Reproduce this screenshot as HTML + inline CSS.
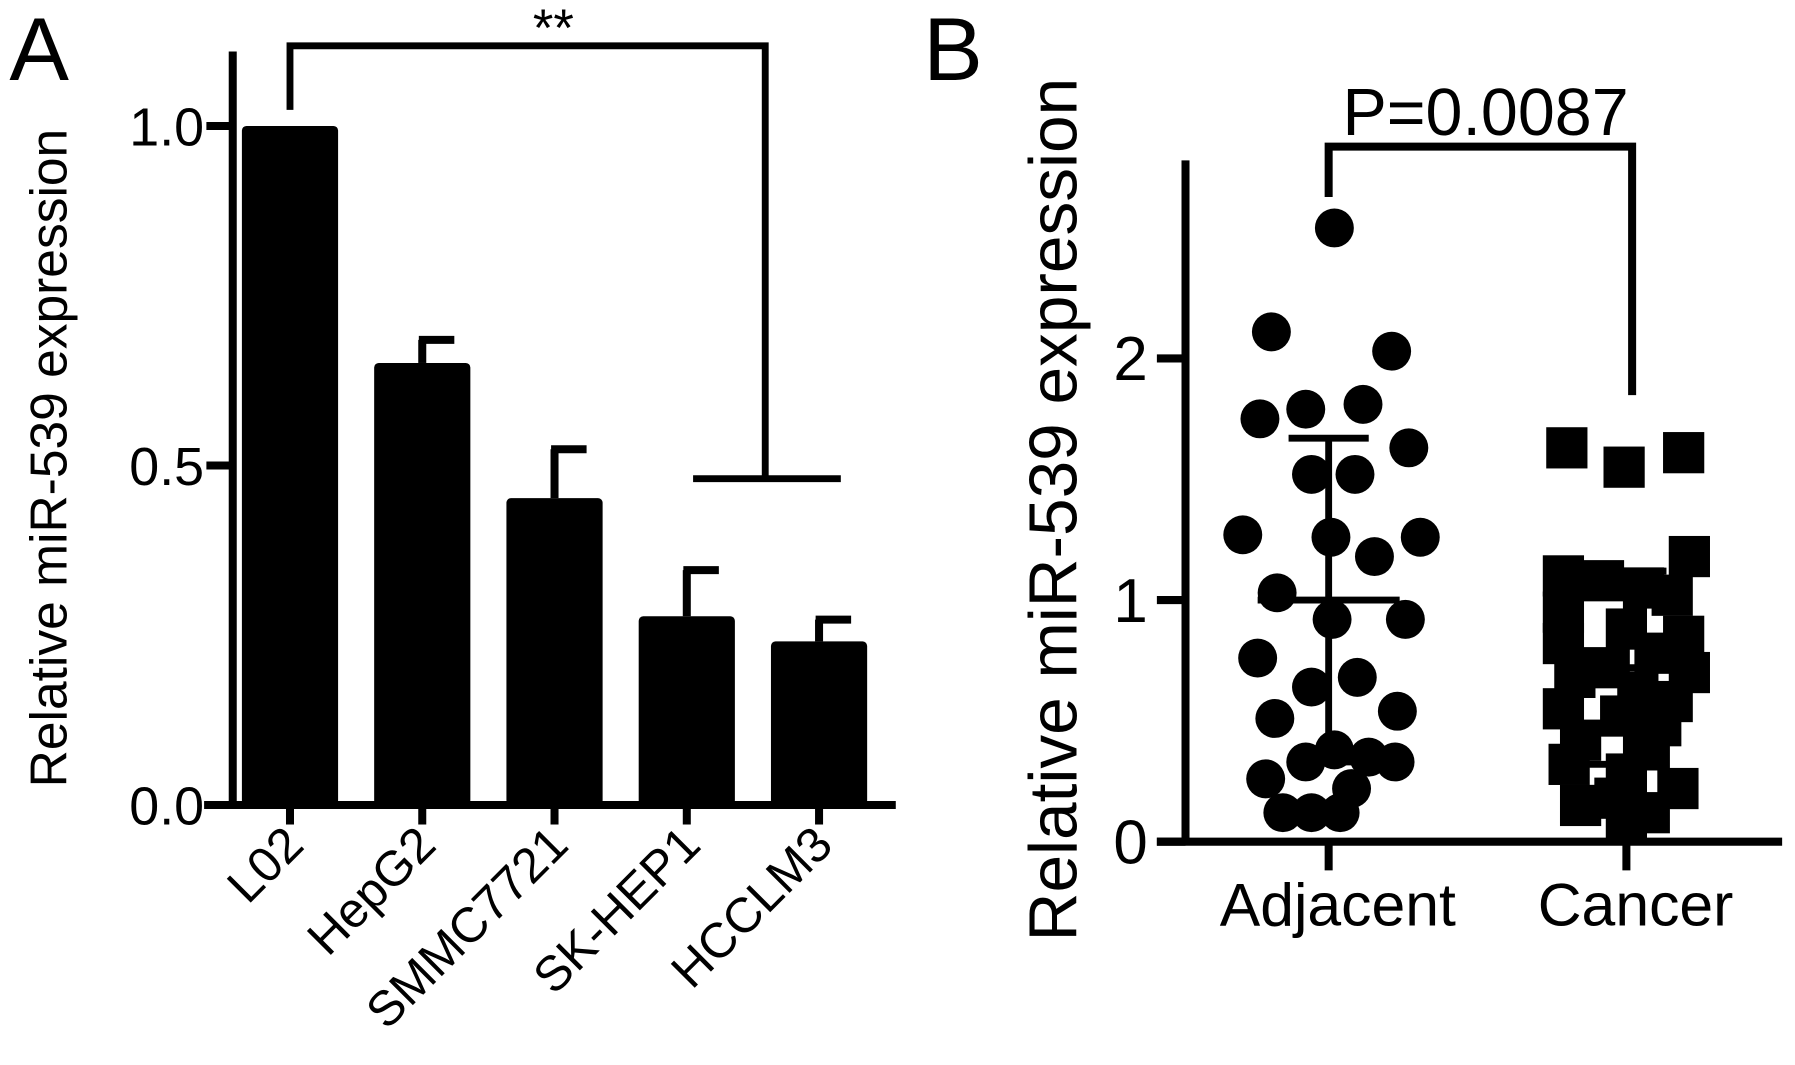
<!DOCTYPE html>
<html><head><meta charset="utf-8"><style>html,body{margin:0;padding:0;background:#fff}svg{display:block}text{font-family:"Liberation Sans",Arial,sans-serif;fill:#000}</style></head>
<body>
<svg id="fig" width="1795" height="1065" viewBox="0 0 1567 930" xmlns="http://www.w3.org/2000/svg">
<g id="pa"></g>
<g id="pb"></g>
</svg>
<script>
const catsA = ["L02","HepG2","SMMC7721","SK-HEP1","HCCLM3"];
const valsA = [1.0,0.651,0.452,0.278,0.241];
const errA = [0,0.034,0.072,0.068,0.032];
const ticksA = [0,0.5,1.0];
const tickLabelsA = ["0.0","0.5","1.0"];
const groupsB = ["Adjacent","Cancer"];
const adjVals = [2.54,2.11,2.03,1.75,1.79,1.81,1.63,1.52,1.52,1.27,1.26,1.18,1.26,1.03,0.92,0.92,0.76,0.64,0.68,0.51,0.54,0.26,0.33,0.38,0.35,0.33,0.22,0.12,0.12,0.12];
const canVals = [1.63,1.55,1.61,1.18,1.10,1.08,1.05,1.02,0.95,0.88,0.85,0.82,0.78,0.72,0.70,0.68,0.62,0.58,0.55,0.52,0.48,0.42,0.38,0.32,0.28,0.22,0.18,0.15,0.12,0.10];
const meanB = [1.0,0.72];
const sdB = [0.67,0.40];
const ticksB = [0,1,2];
const NS="http://www.w3.org/2000/svg";
function mk(p,t,a,txt){const e=document.createElementNS(NS,t);for(const k in a)e.setAttribute(k,a[k]);if(txt!==undefined)e.textContent=txt;p.appendChild(e);return e;}
const pa=document.getElementById('pa');
const yA=v=>703-v*593;
const xA=i=>253+i*115.5;
let e;
e=mk(pa,'line',{x1:203,y1:45,x2:203,y2:706,stroke:'#000','stroke-width':7});


e=mk(pa,'line',{x1:178,y1:703,x2:782,y2:703,stroke:'#000','stroke-width':7});


ticksA.forEach((t,i)=>{
  e=mk(pa,'line',{x1:180,y1:yA(t),x2:203,y2:yA(t),stroke:'#000','stroke-width':7});
  
  
  e=mk(pa,'text',{x:178,y:yA(t)+17,'text-anchor':'end','font-size':47},tickLabelsA[i]);
  
  
});
catsA.forEach((c,i)=>{
  const x=xA(i),w=84,top=yA(valsA[i]);
  if(errA[i]>0){
    const et=yA(valsA[i]+errA[i]);
    e=mk(pa,'line',{x1:x,y1:top,x2:x,y2:et,stroke:'#000','stroke-width':7});
    
    
    e=mk(pa,'line',{x1:x-3,y1:et,x2:x+28,y2:et,stroke:'#000','stroke-width':7});
    
    
  }
  e=mk(pa,'rect',{x:x-w/2,y:top,width:w,height:703-top,rx:4,fill:'#000'});
  
  
  e=mk(pa,'line',{x1:x,y1:703,x2:x,y2:720,stroke:'#000','stroke-width':7});
  
  
  e=mk(pa,'text',{x:0,y:0,'text-anchor':'end','font-size':43,transform:`translate(${x+14},${740}) rotate(-45)`},c);
  
  
});
e=mk(pa,'path',{d:`M${xA(0)} 96 V40 H668 V418 M605 418 H734`,stroke:'#000','stroke-width':6,fill:'none'});


e=mk(pa,'text',{x:483,y:40,'text-anchor':'middle','font-size':46},'**');


e=mk(pa,'text',{x:0,y:0,'text-anchor':'middle','font-size':45,transform:'translate(58,400) rotate(-90)'},'Relative miR-539 expression');


e=mk(pa,'text',{x:8,y:70,'font-size':78},'A');


const pb=document.getElementById('pb');
const yB=v=>735-v*211;
const xB=i=>1160+i*260;
const jitAdj=[5,-50,55,-60,-20,30,70,-15,23,-75,2,40,80,-45,3,67,-62,-15,25,-47,60,-55,-20,5,35,58,20,-40,-15,10];
const jitCan=[-52,-2,50,55,-55,-20,15,40,-55,0,50,-55,25,-20,55,-45,10,40,-55,-5,30,-40,20,-50,0,45,-10,-40,20,0];
e=mk(pb,'line',{x1:1035,y1:140,x2:1035,y2:738,stroke:'#000','stroke-width':7});


e=mk(pb,'line',{x1:1010,y1:735,x2:1556,y2:735,stroke:'#000','stroke-width':7});


ticksB.forEach(t=>{
  e=mk(pb,'line',{x1:1010,y1:yB(t),x2:1035,y2:yB(t),stroke:'#000','stroke-width':7});
  
  
  e=mk(pb,'text',{x:1002,y:yB(t)+19,'text-anchor':'end','font-size':54},String(t));
  
  
});
groupsB.forEach((g,i)=>{
  e=mk(pb,'line',{x1:xB(i),y1:735,x2:xB(i),y2:760,stroke:'#000','stroke-width':7});
  
  
  e=mk(pb,'text',{x:xB(i)+8,y:808,'text-anchor':'middle','font-size':53},g);
  
  
});
adjVals.forEach((v,i)=>{
  e=mk(pb,'circle',{cx:xB(0)+jitAdj[i],cy:yB(v),r:17,fill:'#000'});
  
  
});
canVals.forEach((v,i)=>{
  e=mk(pb,'rect',{x:xB(1)+jitCan[i]-18,y:yB(v)-18,width:36,height:36,fill:'#000'});
  
  
});
groupsB.forEach((g,i)=>{
  const x=xB(i),c='#000';
  e=mk(pb,'line',{x1:x,y1:yB(meanB[i]-sdB[i]),x2:x,y2:yB(meanB[i]+sdB[i]),stroke:c,'stroke-width':6});
  
  
  e=mk(pb,'line',{x1:x-62,y1:yB(meanB[i]),x2:x+62,y2:yB(meanB[i]),stroke:c,'stroke-width':6});
  
  
  [1,-1].forEach(s=>{
    e=mk(pb,'line',{x1:x-35,y1:yB(meanB[i]+s*sdB[i]),x2:x+35,y2:yB(meanB[i]+s*sdB[i]),stroke:c,'stroke-width':6});
    
    
  });
});
e=mk(pb,'path',{d:`M${xB(0)} 172 V128 H1425 V345`,stroke:'#000','stroke-width':7,fill:'none'});


e=mk(pb,'text',{x:1297,y:118,'text-anchor':'middle','font-size':58},'P=0.0087');


e=mk(pb,'text',{x:0,y:0,'text-anchor':'middle','font-size':59,transform:'translate(940,445) rotate(-90)'},'Relative miR-539 expression');


e=mk(pb,'text',{x:806,y:70,'font-size':78},'B');


</script>
</body></html>
